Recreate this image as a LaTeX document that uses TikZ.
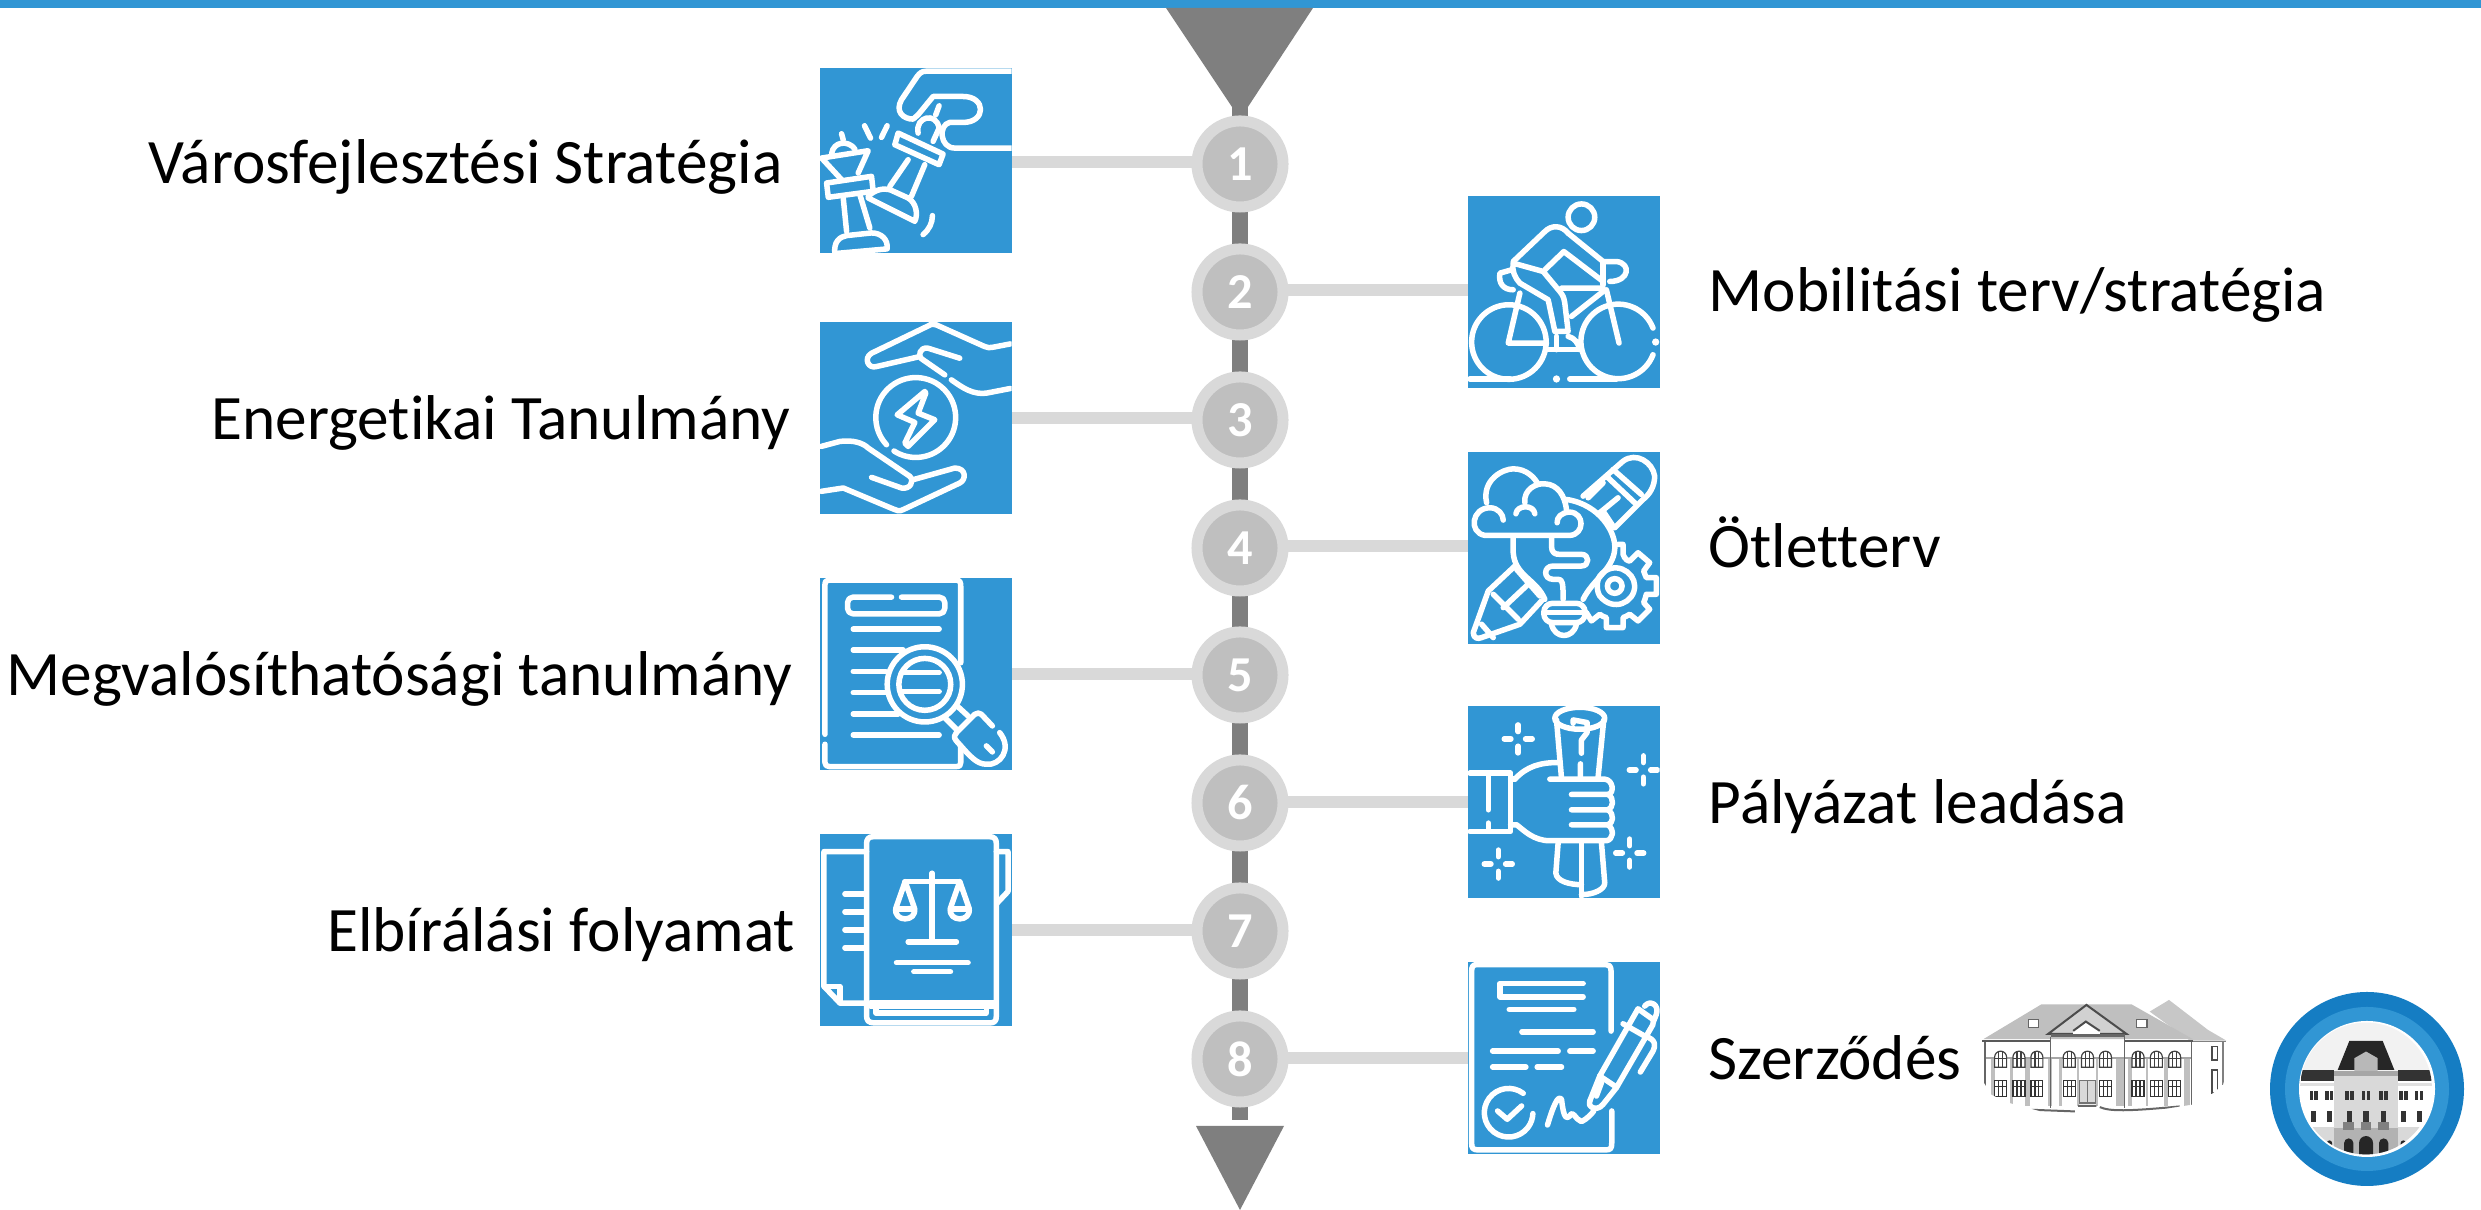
\documentclass[tikz,border=0pt]{standalone}
\usepackage{fontspec}
\setmainfont[Ligatures=NoCommon]{Carlito}
\definecolor{blu}{HTML}{3196D4}
\definecolor{lgo}{HTML}{157DC3}
\definecolor{spn}{HTML}{7F7F7F}
\definecolor{rng}{HTML}{D9D9D9}
\definecolor{inr}{HTML}{BFBFBF}
\tikzset{
  iconbox/.style={rectangle,fill=blu,inner sep=0,outer sep=0,minimum width=1.92cm,minimum height=1.92cm},
  conn/.style={draw=rng,line width=0.12cm},
  spine/.style={draw=spn,line width=0.16cm},
  tri/.style={fill=spn},
  numc/.style={circle,fill=inr,draw=rng,line width=0.11cm,minimum size=0.86cm,inner sep=0,text=white,font=\fontsize{14.3}{14.3}\selectfont\bfseries},
  lbl/.style={inner sep=0,text=black,font=\fontsize{18}{20}\selectfont},
  iconline/.style={draw=white,line width=0.055cm,line cap=round,line join=round},
  frame/.style 2 args={shift={(#1*0.01cm,{(1210-#2)*0.01cm})},x=0.0033333cm,y=-0.0033333cm},
}
\newcommand{\iconspark}[2]{\draw[iconline] (#1,#2-42)--(#1,#2-22) (#1,#2+22)--(#1,#2+42) (#1-42,#2)--(#1-22,#2) (#1+22,#2)--(#1+42,#2);}
\begin{document}
\begin{tikzpicture}[x=0.01cm,y=0.01cm]
\useasboundingbox (0,0) rectangle (2481,1210);
\fill[blu] (0,1202) rectangle (2481,1210);
% spine and arrows
\coordinate (st) at (1240,1110);
\coordinate (sb) at (1240,90);
\draw[spine] (st) -- (sb);
\fill[tri] (1166,1202) -- (1313,1202) -- (1240,1091) -- cycle;
\fill[tri] (1196,84) -- (1284,84) -- (1240,0) -- cycle;
% icon boxes
\node[iconbox,minimum height=1.85cm] (i1) at (916,1049.5) {};
\node[iconbox] (i2) at (1564,918) {};
\node[iconbox] (i3) at (916,792) {};
\node[iconbox] (i4) at (1564,662) {};
\node[iconbox] (i5) at (916,536) {};
\node[iconbox] (i6) at (1564,408) {};
\node[iconbox] (i7) at (916,280) {};
\node[iconbox] (i8) at (1564,152) {};
% connector levels
\coordinate (j1) at (1240,1048);
\coordinate (j2) at (1240,920);
\coordinate (j3) at (1240,792);
\coordinate (j4) at (1240,664);
\coordinate (j5) at (1240,536);
\coordinate (j6) at (1240,408);
\coordinate (j7) at (1240,280);
\coordinate (j8) at (1240,152);
\foreach \k in {1,3,5,7}{ \draw[conn] (j\k) -- (i\k.east |- j\k); }
\foreach \k in {2,4,6,8}{ \draw[conn] (j\k) -- (i\k.west |- j\k); }
% number circles
\node[numc] (c1) at (1240,1046) {1};
\node[numc] (c2) at (1240,918) {2};
\node[numc] (c3) at (1240,790) {3};
\node[numc] (c4) at (1240,662) {4};
\node[numc] (c5) at (1240,535) {5};
\node[numc] (c6) at (1240,407) {6};
\node[numc] (c7) at (1240,279) {7};
\node[numc] (c8) at (1240,151) {8};
% labels
\node[lbl,anchor=base east] (t1) at (783,1026) {Városfejlesztési Stratégia};
\node[lbl,anchor=base west] (t2) at (1708,898) {Mobilitási terv/stratégia};
\node[lbl,anchor=base east] (t3) at (791,770) {Energetikai Tanulmány};
\node[lbl,anchor=base west] (t4) at (1708,642) {Ötletterv};
\node[lbl,anchor=base east] (t5) at (793,514) {Megvalósíthatósági tanulmány};
\node[lbl,anchor=base west] (t6) at (1708,386) {Pályázat leadása};
\node[lbl,anchor=base east] (t7) at (796,258) {Elbírálási folyamat};
\node[lbl,anchor=base west] (t8) at (1708,130) {Szerződés};
% ---- icon 1: chess
\begin{scope}[frame={780}{0},iconline]
\clip (120,204) rectangle (696,760);
\draw (696,214) -- (440,214) .. controls (425,214) and (420,220) .. (412,230) -- (365,300) .. controls (345,335) and (370,358) .. (400,358) -- (415,345) -- (460,290) -- (550,290) .. controls (620,290) and (620,368) .. (550,368) -- (510,368) .. controls (475,375) and (480,445) .. (525,445) -- (696,445);
\draw (355,400) -- (490,463) -- (478,495) -- (345,435) -- cycle;
\draw (415,400) .. controls (405,350) and (470,335) .. (478,385) -- (460,425);
\draw (478,318) -- (468,345);
\draw (385,480) -- (330,560) (435,495) -- (395,590);
\draw (265,590) .. controls (285,570) and (310,565) .. (330,570) -- (385,595) .. controls (410,610) and (415,645) .. (405,665) -- (265,595);
\draw (254,378) -- (272,415) (322,378) -- (305,413);
\draw (458,648) .. controls (458,670) and (448,690) .. (430,705);
\draw (125,475) -- (265,453) -- (235,520) (125,475) -- (185,540);
\draw (155,462) .. controls (160,425) and (205,420) .. (225,448);
\draw (185,402) -- (190,420);
\draw (140,550) -- (275,530) -- (280,575) -- (145,593) -- cycle;
\draw (190,595) -- (200,695) (240,585) -- (270,685);
\draw (165,765) .. controls (160,725) and (180,712) .. (200,708) -- (275,700) .. controls (305,700) and (325,720) .. (322,748) -- (165,762);
\end{scope}
% ---- icon 2: cyclist
\begin{scope}[frame={1440}{180},iconline]
\clip (84,48) rectangle (660,624);
\draw (425,112) circle[radius=40];
\draw (385,160) -- (490,245);
\draw (220,245) -- (315,155) .. controls (335,135) and (365,135) .. (385,160);
\draw (315,270) -- (372,215) -- (490,305);
\draw (490,245) -- (530,245) .. controls (575,250) and (570,305) .. (510,305);
\draw (490,245) -- (490,315);
\draw (220,250) -- (310,275) -- (360,335) .. controls (372,350) and (372,355) .. (375,370) -- (385,455) -- (345,455) -- (325,360) -- (240,310) .. controls (225,295) and (215,270) .. (220,250);
\draw (365,325) -- (490,325) (395,410) -- (490,335);
\draw (215,270) -- (180,280) .. controls (175,310) and (190,330) .. (220,330);
\draw (240,340) -- (205,490) -- (320,490);
\draw (500,330) -- (538,490);
\draw (207,487) circle[radius=112];
\draw (640,445) arc[start angle=-21,end angle=-339,radius=112];
\fill[white] (648,487) circle[radius=11] (350,598) circle[radius=11];
\draw (90,598) -- (210,598) (390,598) -- (530,598);
\draw (325,510) -- (420,510) (350,470) -- (350,510);
\draw (385,470) .. controls (405,475) and (415,490) .. (420,510);
\end{scope}
% ---- icon 3: energy hands
\begin{scope}[frame={800}{300},iconline]
\clip (60,66) rectangle (636,642);
\draw (632,132) -- (580,142) .. controls (570,144) and (565,144) .. (555,140) -- (410,75) .. controls (400,71) and (395,72) .. (385,78) -- (215,160) .. controls (190,175) and (205,208) .. (230,200) -- (360,170);
\draw (480,175) -- (385,145) .. controls (360,140) and (350,170) .. (370,180) -- (435,225);
\draw (455,240) .. controls (490,265) and (520,285) .. (560,280) -- (632,266);
\draw (260,435) arc[start angle=137,end angle=483,radius=120];
\draw (375,275) -- (292,345) -- (345,368) -- (315,430) -- (325,440) -- (405,360) -- (355,340) -- (378,280) -- cycle;
\draw (64,440) -- (120,425) .. controls (160,420) and (190,430) .. (205,445) -- (330,530) .. controls (345,545) and (330,570) .. (305,565) -- (215,533);
\draw (340,540) -- (465,505) .. controls (500,505) and (500,540) .. (480,550) -- (310,630) .. controls (298,637) and (290,632) .. (280,628) -- (130,565) -- (64,575);
\end{scope}
% ---- icon 4: idea
\begin{scope}[frame={1440}{180},iconline]
\clip (84,816) rectangle (660,1392);
\draw (140,970) .. controls (125,900) and (190,868) .. (220,868) .. controls (260,868) and (285,895) .. (295,915);
\draw (255,970) .. controls (250,930) and (290,910) .. (315,913) .. controls (355,915) and (375,950) .. (380,990);
\draw (352,1030) .. controls (350,1015) and (365,998) .. (390,998) .. controls (435,1000) and (435,1065) .. (390,1068) -- (135,1068) .. controls (85,1060) and (95,985) .. (150,985) .. controls (175,985) and (190,1005) .. (190,1022);
\draw (228,1003) .. controls (232,975) and (282,975) .. (285,1003);
\draw (380,960) .. controls (480,975) and (530,1060) .. (525,1110) .. controls (520,1170) and (460,1200) .. (430,1260);
\draw (220,1070) -- (220,1120) .. controls (225,1190) and (290,1200) .. (315,1260);
\draw (335,1070) -- (335,1100) .. controls (335,1120) and (345,1125) .. (360,1125) -- (425,1125) .. controls (450,1125) and (450,1160) .. (425,1160) -- (340,1160) .. controls (310,1160) and (310,1200) .. (340,1200) -- (355,1200) .. controls (368,1200) and (370,1210) .. (370,1260);
\draw[rounded corners=2.5pt] (312,1272) rectangle (436,1330);
\draw (312,1300) -- (436,1300);
\draw (335,1335) .. controls (345,1380) and (400,1380) .. (410,1335);
\draw (430,950) -- (550,845) .. controls (590,815) and (640,850) .. (645,890) .. controls (645,920) and (630,945) .. (610,960) -- (525,1045);
\draw (500,890) -- (585,970) (520,870) -- (605,945) (490,910) -- (445,955) (535,955) -- (480,1000) (490,995) -- (520,1040);
\draw (225,1160) -- (145,1235) -- (100,1360) .. controls (100,1378) and (115,1380) .. (125,1375) -- (240,1335) -- (305,1265);
\draw (160,1245) -- (235,1320) (270,1210) -- (190,1285) (125,1335) -- (160,1375) (230,1170) -- (300,1250);
\draw (525,1220) circle[radius=22];
\draw (480,1190) .. controls (520,1140) and (585,1175) .. (585,1220) .. controls (585,1270) and (520,1300) .. (480,1250) .. controls (470,1235) and (470,1205) .. (480,1190);
\draw (535,1095) -- (550,1095) -- (550,1125) .. controls (555,1140) and (565,1145) .. (570,1145) -- (595,1120) -- (630,1150) -- (612,1175) .. controls (615,1185) and (618,1190) .. (620,1195) -- (650,1195) -- (650,1245) -- (620,1245) .. controls (618,1255) and (615,1262) .. (612,1270) -- (630,1290) -- (595,1325) -- (570,1305) .. controls (562,1310) and (556,1313) .. (550,1315) -- (550,1345) -- (500,1345) -- (500,1315) .. controls (492,1313) and (486,1310) .. (480,1305) -- (455,1325) -- (440,1300);
\end{scope}
% ---- icon 5: document search
\begin{scope}[frame={800}{300},iconline]
\clip (60,834) rectangle (636,1410);
\draw (75,1305) -- (75,855) .. controls (75,845) and (80,842) .. (88,842) -- (470,842) .. controls (480,842) and (483,848) .. (483,860) -- (483,1090);
\draw (75,1335) -- (75,1390) .. controls (75,1398) and (80,1402) .. (88,1402) -- (470,1402) .. controls (480,1402) and (483,1398) .. (483,1390) -- (483,1340);
\draw[rounded corners=1.5pt] (275,893) -- (143,893) -- (143,943) -- (435,943) -- (435,893) -- (305,893);
\draw (160,989) -- (418,989) (160,1052) -- (310,1052) (160,1116) -- (258,1116) (160,1180) -- (258,1180) (160,1244) -- (295,1244) (160,1307) -- (418,1307);
\draw (305,1120) -- (418,1120) (305,1177) -- (418,1177);
\draw (375,1155) circle[radius=113] (375,1155) circle[radius=78];
\draw (470,1218) -- (505,1250) (435,1255) -- (470,1290);
\draw (470,1300) -- (525,1245) .. controls (532,1240) and (540,1240) .. (545,1245) -- (578,1280);
\draw (600,1300) .. controls (640,1350) and (600,1400) .. (560,1395) .. controls (530,1395) and (510,1370) .. (470,1325) .. controls (460,1315) and (465,1305) .. (470,1300);
\draw (560,1340) -- (578,1358);
\end{scope}
% ---- icon 6: scroll in hand
\begin{scope}[frame={1450}{690},iconline]
\clip (54,48) rectangle (630,624);
\draw (390,85) ellipse[x radius=75,y radius=33];
\draw (320,90) -- (335,265) (462,90) -- (445,262);
\draw (370,100) -- (370,90) -- (412,98) -- (412,128) -- (395,150) -- (395,190) (392,222) -- (392,262);
\draw (300,268) -- (465,268) .. controls (490,270) and (495,310) .. (475,314) -- (365,314);
\draw (475,314) .. controls (495,325) and (490,355) .. (475,360) -- (365,360);
\draw (475,360) .. controls (495,375) and (490,400) .. (475,405) -- (365,405);
\draw (475,405) .. controls (495,420) and (490,450) .. (470,453) -- (300,453) .. controls (250,453) and (220,420) .. (200,405) -- (182,405);
\draw (195,268) .. controls (230,230) and (270,218) .. (325,218);
\draw (182,268) -- (195,268);
\draw (60,250) -- (182,250) -- (182,425) -- (60,425);
\draw (115,255) -- (115,360) (115,400) -- (115,420);
\draw (325,458) -- (318,550) .. controls (320,575) and (360,585) .. (395,585);
\draw (395,460) -- (395,620);
\draw (395,615) .. controls (430,615) and (465,600) .. (465,580) -- (455,458);
\iconspark{205}{147}
\iconspark{581}{240}
\iconspark{145}{523}
\iconspark{540}{490}
\end{scope}
% ---- icon 7: legal book
\begin{scope}[frame={800}{810},iconline]
\clip (60,72) rectangle (636,648);
\draw (222,80) -- (568,80) .. controls (585,80) and (590,88) .. (590,102) -- (590,618) .. controls (590,635) and (585,640) .. (568,640) -- (225,640) .. controls (205,640) and (200,632) .. (200,618) -- (200,102) .. controls (200,88) and (205,80) .. (222,80);
\draw[line width=0.09cm] (212,584) -- (584,584);
\draw (228,592) -- (228,610) -- (560,610) -- (560,592);
\draw (200,125) -- (72,125) -- (72,530) -- (120,580) -- (200,580);
\draw (72,530) -- (120,530) -- (120,580);
\draw (135,252) -- (195,252) (135,306) -- (195,306) (135,360) -- (195,360) (135,414) -- (195,414);
\draw (590,125) -- (625,125) -- (625,245) -- (592,280);
\draw (397,190) -- (397,390) (315,215) -- (480,215) (325,396) -- (470,396) (290,459) -- (505,459) (342,486) -- (452,486);
\foreach \cx in {316,480}{
  \draw (\cx,215) -- (\cx-28,295) .. controls (\cx-36,338) and (\cx+36,338) .. (\cx+28,295) -- cycle;
  \draw (\cx-28,298) -- (\cx+28,298);
}
\end{scope}
% ---- icon 8: contract
\begin{scope}[frame={1450}{690},iconline]
\clip (54,816) rectangle (630,1392);
\draw (484,1025) -- (484,845) .. controls (484,828) and (476,825) .. (468,825) -- (82,825) .. controls (68,825) and (65,832) .. (65,845) -- (65,1362) .. controls (65,1378) and (70,1382) .. (85,1382) -- (468,1382) .. controls (482,1382) and (486,1378) .. (486,1362) -- (486,1265);
\draw (400,882) -- (150,882) -- (150,922) -- (400,922);
\draw (178,960) -- (372,960) (216,1027) -- (430,1027) (128,1085) -- (325,1085) (360,1085) -- (430,1085) (128,1133) -- (228,1133) (262,1133) -- (335,1133);
\draw (220,1212) arc[start angle=-53,end angle=-358,radius=73];
\draw (143,1265) -- (172,1290) -- (215,1250);
\draw (293,1307) .. controls (310,1250) and (325,1215) .. (335,1230) .. controls (340,1270) and (345,1295) .. (360,1280) .. controls (370,1260) and (375,1290) .. (395,1297) .. controls (410,1290) and (425,1275) .. (432,1265);
\draw (420,1235) -- (450,1160) -- (565,958) -- (610,990);
\draw (500,1195) -- (610,1005);
\draw (520,1003) -- (585,1040) .. controls (620,1050) and (618,1070) .. (610,1085) -- (572,1148);
\draw (585,950) .. controls (600,930) and (630,945) .. (620,975) -- (610,1000);
\draw (450,1160) -- (495,1190) (500,1195) -- (460,1245) .. controls (440,1270) and (410,1250) .. (420,1235);
\draw (455,1180) -- (440,1220);
\end{scope}
% ---- building sketch
\begin{scope}[frame={1960}{970}]
\begin{scope}
\clip (40,80) -- (830,80) -- (830,215) -- (790,345) -- (757,372) -- (695,405) -- (520,432) -- (270,432) -- (150,400) -- (95,375) -- (60,320) -- (40,215) -- cycle;
\fill[black!22] (570,125) -- (628,90) -- (745,180) -- (800,212) -- (690,212) -- cycle;
\fill[black!25] (70,208) -- (245,103) -- (515,103) -- (700,208) -- cycle;
\fill[black!18] (265,192) -- (380,105) -- (500,192) -- cycle;
\draw[black!70,line width=0.02cm] (265,192) -- (380,105) -- (500,192) -- cycle;
\fill[white] (340,183) -- (378,155) -- (420,183) -- (420,192) -- (340,192) -- cycle;
\draw[black!70,line width=0.02cm] (340,183) -- (378,155) -- (420,183);
\fill[black!65] (65,209) rectangle (272,216);
\fill[black!65] (495,209) rectangle (700,216);
\fill[black!50] (700,212) rectangle (800,217);
\fill[black!60] (272,192) rectangle (495,200);
\fill[white] (205,150) rectangle (235,172);
\draw[black!60,line width=0.012cm] (205,150) rectangle (235,172);
\fill[white] (530,150) rectangle (562,172);
\draw[black!60,line width=0.012cm] (530,150) rectangle (562,172);
\foreach \px/\pw in {92/12,150/8,196/15,265/12,296/10,352/6,410/6,470/22,505/12,558/8,612/12,672/20}{
  \fill[black!25] (\px,265) rectangle (\px+\pw,408);
}
\draw[black!35,line width=0.02cm] (75,265) -- (695,265);
\draw[black!60,line width=0.012cm] (75,215) -- (75,370) (272,200) -- (272,415) (495,200) -- (495,415) (695,216) -- (695,405);
\foreach \wx in {122,177,231,328,383,437,535,590,645}{
  \fill[white] (\wx-18,292) -- (\wx-18,262) arc[start angle=180,end angle=360,radius=18] -- (\wx+18,292) -- cycle;
  \draw[black!75,line width=0.012cm] (\wx-18,292) -- (\wx-18,262) arc[start angle=180,end angle=360,radius=18] -- (\wx+18,292) -- cycle;
  \draw[black!75,line width=0.012cm] (\wx-6,246) -- (\wx-6,292) (\wx+6,246) -- (\wx+6,292) (\wx-18,266) -- (\wx+18,266);
}
\foreach \wx in {122,177,231,328,437,535,590,645}{
  \fill[white] (\wx-18,332) rectangle (\wx+18,380);
  \draw[black!80,line width=0.012cm] (\wx-18,332) rectangle (\wx+18,380);
  \draw[black!80,line width=0.012cm] (\wx-6,332) -- (\wx-6,380) (\wx+6,332) -- (\wx+6,380) (\wx-18,350) -- (\wx+18,350);
}
\fill[black!15] (360,333) rectangle (407,400);
\draw[black!55,line width=0.012cm] (360,333) rectangle (407,400) (383,333) -- (383,400);
\draw[black!70,line width=0.015cm] (757,230) rectangle (773,270) (757,300) rectangle (773,370);
\draw[black!50,line width=0.012cm] (790,215) -- (790,345);
\draw[black!60,line width=0.02cm] (215,420) -- (345,425) (355,408) -- (410,408) (420,412) .. controls (450,425) and (500,425) .. (660,410);
\end{scope}
\end{scope}
% ---- round logo
\fill[lgo] (2367,121) circle[radius=97];
\fill[blu] (2367,121) circle[radius=82];
\fill[white] (2367,121) circle[radius=68];
\begin{scope}[frame={1960}{970}]
\clip (1220,356) circle[radius=198];
\fill[black!5] (1010,150) rectangle (1430,340);
\fill[white] (1010,335) rectangle (1430,480);
\fill[black!12] (1010,340) rectangle (1430,350);
\fill[black!15] (1010,472) rectangle (1430,570);
\fill[black!80] (1025,302) rectangle (1125,335);
\fill[black!80] (1315,302) rectangle (1420,335);
\fill[black!85] (1170,213) -- (1270,213) -- (1305,300) -- (1135,300) -- cycle;
\fill[black!15] (1125,320) rectangle (1315,475);
\fill[black!30] (1125,475) rectangle (1315,570);
\fill[black!28] (1185,305) -- (1185,265) -- (1220,245) -- (1255,265) -- (1255,305) -- cycle;
\fill[black!35] (1125,303) rectangle (1315,320);
\foreach \wx in {1163,1178,1213,1228,1265,1280,1056,1070,1103,1117,1325,1340,1372,1387}{
  \fill[black!80] (\wx-5,365) rectangle (\wx+5,392);
}
\foreach \wx in {1062,1110,1170,1220,1272,1332,1380}{
  \fill[black!80] (\wx-8,425) rectangle (\wx+8,458);
}
\foreach \wx in {1168,1220,1273}{
  \fill[black!50] (\wx-16,458) rectangle (\wx+16,480);
}
\foreach \wx/\wr in {1168/14,1220/21,1273/14,1110/8,1332/8}{
  \fill[black!85] (\wx-\wr,560) -- (\wx-\wr,520) arc[start angle=180,end angle=360,radius=\wr] -- (\wx+\wr,560) -- cycle;
}
\end{scope}
\end{tikzpicture}
\end{document}
